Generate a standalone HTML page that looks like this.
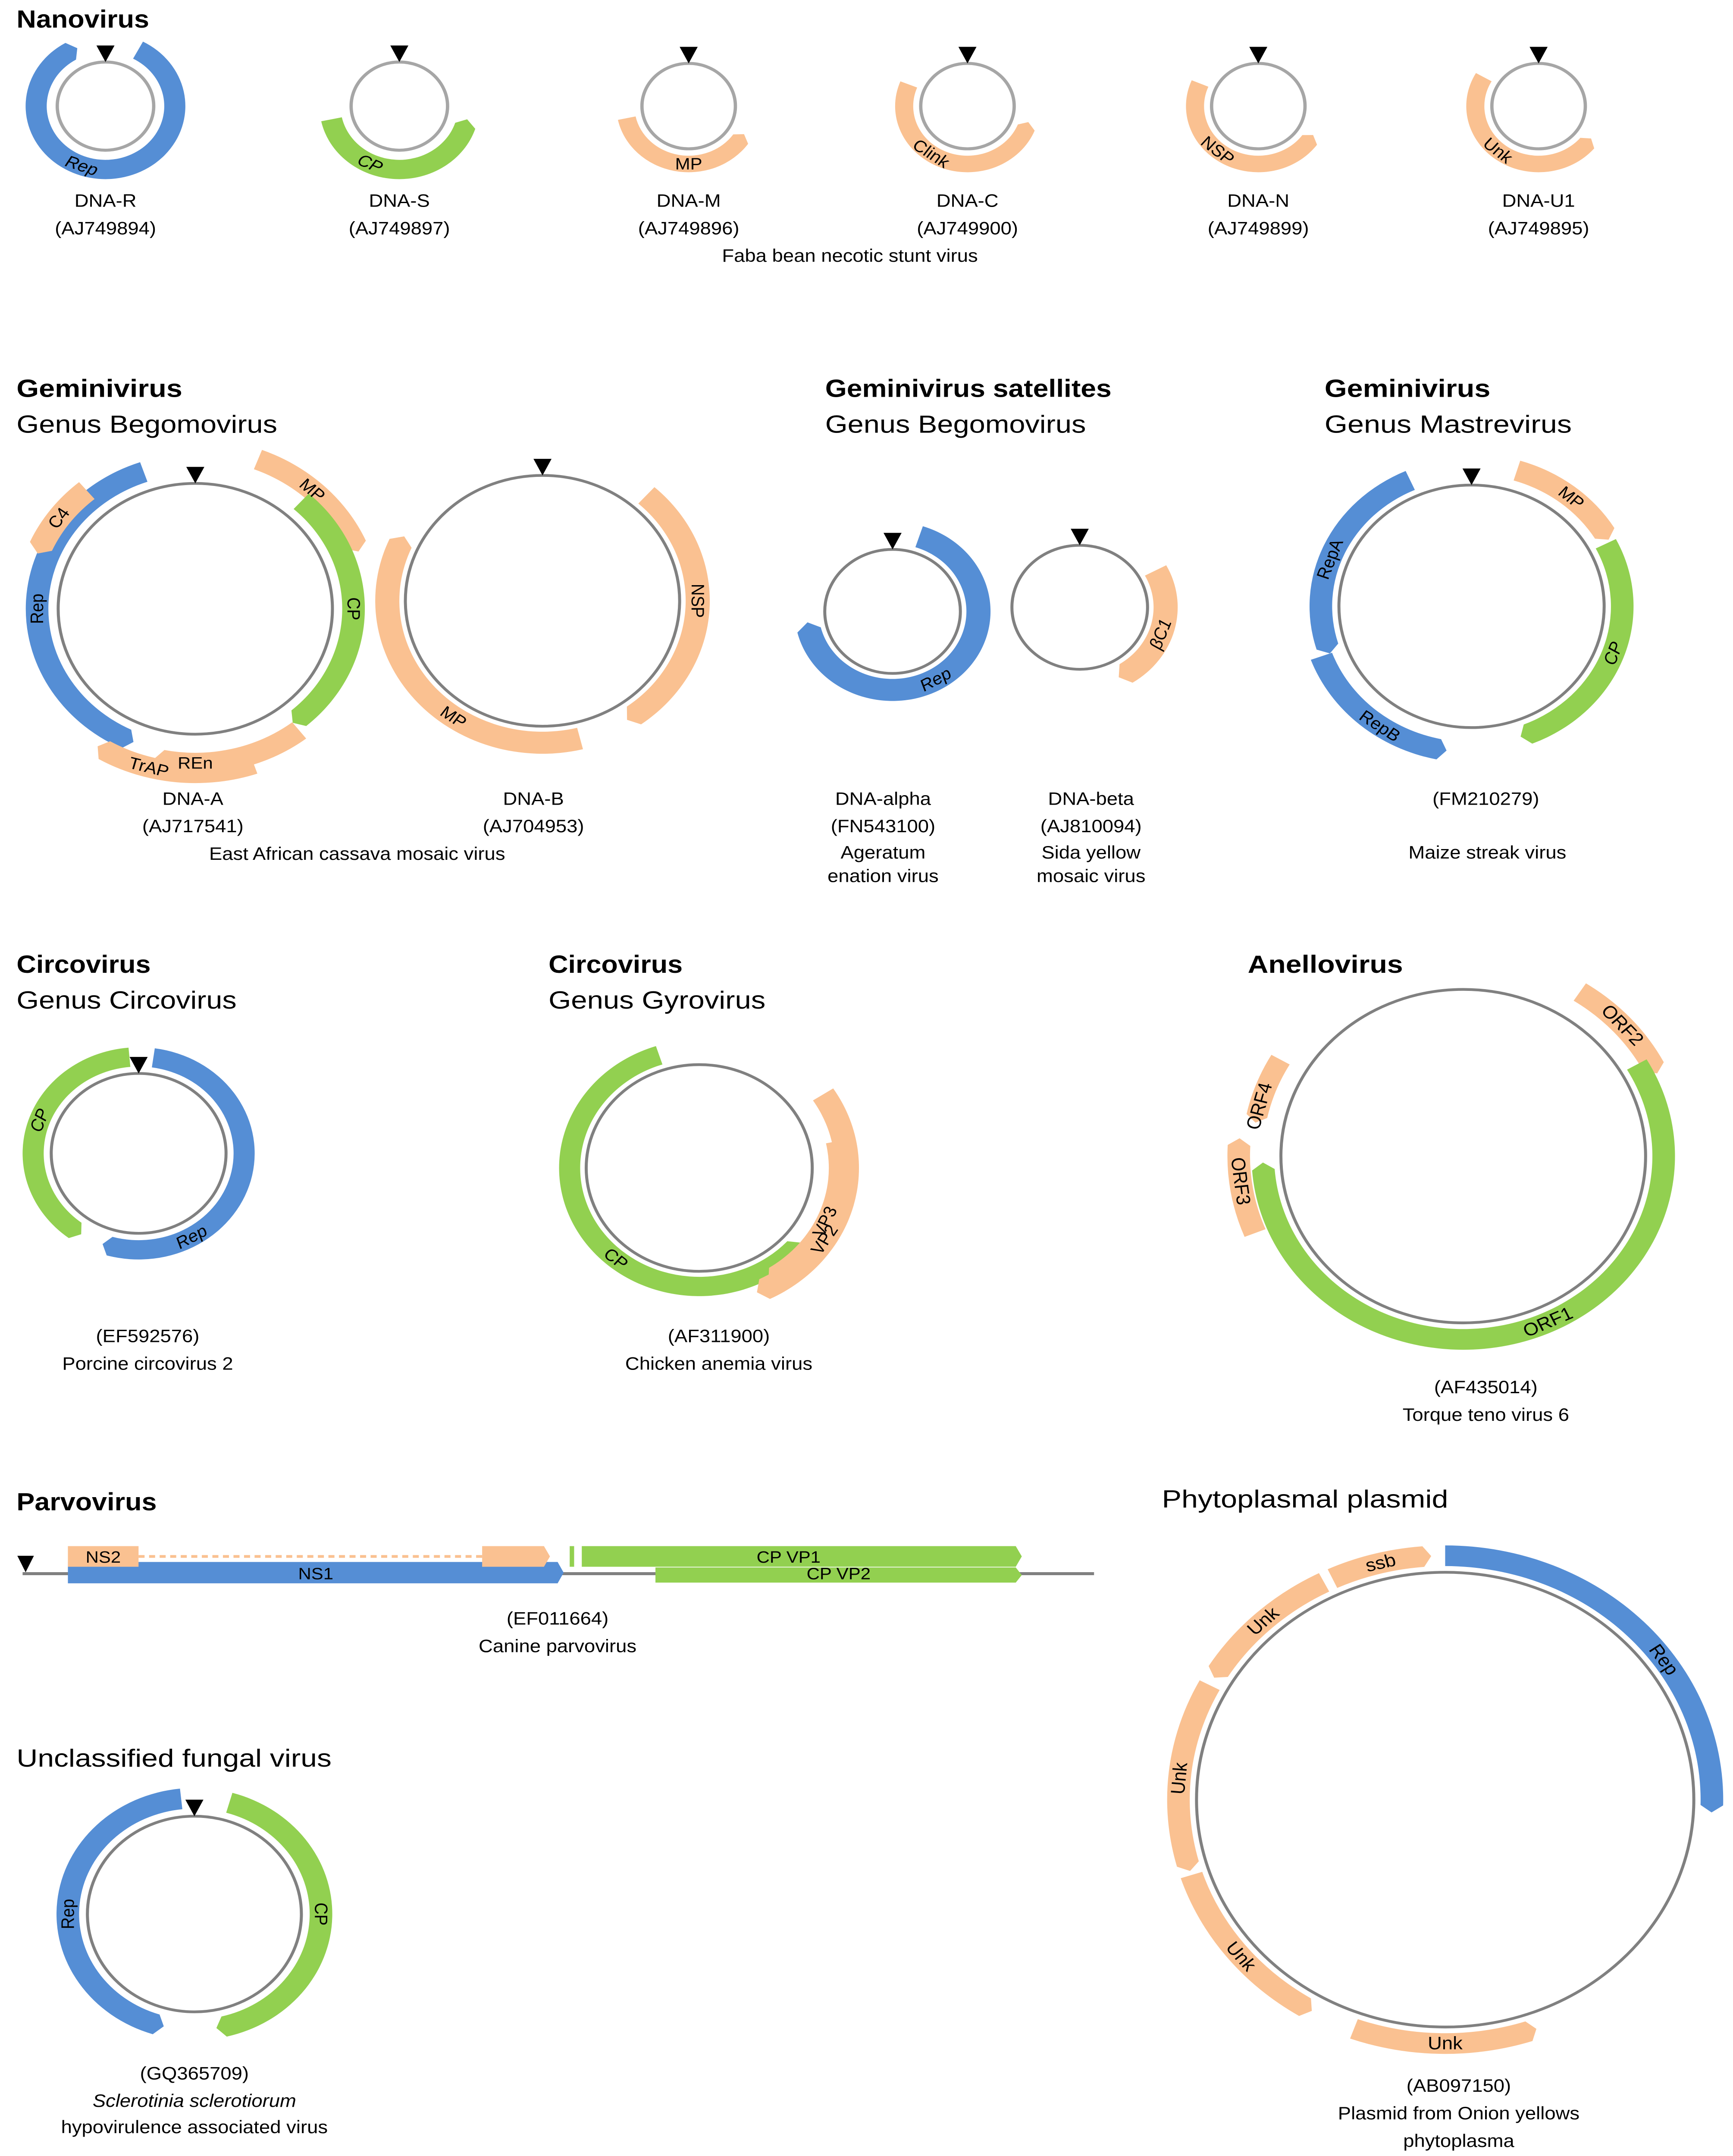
<!DOCTYPE html>
<html><head><meta charset="utf-8"><style>
html,body{margin:0;padding:0;background:#fff;width:100vw;height:100vh;overflow:hidden}
svg{display:block;width:100vw;height:100vh}
text{font-family:"Liberation Sans",sans-serif;fill:#000}
</style></head><body>
<svg id="fig" xmlns="http://www.w3.org/2000/svg" viewBox="0 0 1150 1564.6" preserveAspectRatio="none">
<g id="titles">
<text x="11" y="20" font-size="18" font-weight="bold" textLength="88" lengthAdjust="spacingAndGlyphs">Nanovirus</text>
<text x="11" y="288" font-size="18" font-weight="bold" textLength="110" lengthAdjust="spacingAndGlyphs">Geminivirus</text>
<text x="11" y="314" font-size="18" textLength="173" lengthAdjust="spacingAndGlyphs">Genus Begomovirus</text>
<text x="547.6" y="288" font-size="18" font-weight="bold" textLength="190" lengthAdjust="spacingAndGlyphs">Geminivirus satellites</text>
<text x="547.6" y="314" font-size="18" textLength="173" lengthAdjust="spacingAndGlyphs">Genus Begomovirus</text>
<text x="879" y="288" font-size="18" font-weight="bold" textLength="110" lengthAdjust="spacingAndGlyphs">Geminivirus</text>
<text x="879" y="314" font-size="18" textLength="164" lengthAdjust="spacingAndGlyphs">Genus Mastrevirus</text>
<text x="11" y="706" font-size="18" font-weight="bold" textLength="89" lengthAdjust="spacingAndGlyphs">Circovirus</text>
<text x="11" y="732" font-size="18" textLength="146" lengthAdjust="spacingAndGlyphs">Genus Circovirus</text>
<text x="364" y="706" font-size="18" font-weight="bold" textLength="89" lengthAdjust="spacingAndGlyphs">Circovirus</text>
<text x="364" y="732" font-size="18" textLength="144" lengthAdjust="spacingAndGlyphs">Genus Gyrovirus</text>
<text x="828" y="706" font-size="18" font-weight="bold" textLength="103" lengthAdjust="spacingAndGlyphs">Anellovirus</text>
<text x="11" y="1096" font-size="18" font-weight="bold" textLength="93" lengthAdjust="spacingAndGlyphs">Parvovirus</text>
<text x="11" y="1282" font-size="18" textLength="209" lengthAdjust="spacingAndGlyphs">Unclassified fungal virus</text>
<text x="771" y="1094" font-size="18" textLength="190" lengthAdjust="spacingAndGlyphs">Phytoplasmal plasmid</text>
</g>
<g id="captions" font-size="13" text-anchor="middle">
<text x="70" y="150">DNA-R</text>
<text x="70" y="170">(AJ749894)</text>
<text x="265" y="150">DNA-S</text>
<text x="265" y="170">(AJ749897)</text>
<text x="457" y="150">DNA-M</text>
<text x="457" y="170">(AJ749896)</text>
<text x="642" y="150">DNA-C</text>
<text x="642" y="170">(AJ749900)</text>
<text x="835" y="150">DNA-N</text>
<text x="835" y="170">(AJ749899)</text>
<text x="1021" y="150">DNA-U1</text>
<text x="1021" y="170">(AJ749895)</text>
<text x="564" y="190">Faba bean necotic stunt virus</text>
<text x="128" y="584">DNA-A</text>
<text x="128" y="604">(AJ717541)</text>
<text x="354" y="584">DNA-B</text>
<text x="354" y="604">(AJ704953)</text>
<text x="237" y="624">East African cassava mosaic virus</text>
<text x="586" y="584">DNA-alpha</text>
<text x="586" y="604">(FN543100)</text>
<text x="586" y="623">Ageratum</text>
<text x="586" y="640">enation virus</text>
<text x="724" y="584">DNA-beta</text>
<text x="724" y="604">(AJ810094)</text>
<text x="724" y="623">Sida yellow</text>
<text x="724" y="640">mosaic virus</text>
<text x="986" y="584">(FM210279)</text>
<text x="987" y="623">Maize streak virus</text>
<text x="98" y="974">(EF592576)</text>
<text x="98" y="994">Porcine circovirus 2</text>
<text x="477" y="974">(AF311900)</text>
<text x="477" y="994">Chicken anemia virus</text>
<text x="986" y="1011">(AF435014)</text>
<text x="986" y="1031">Torque teno virus 6</text>
<text x="370" y="1179">(EF011664)</text>
<text x="370" y="1199">Canine parvovirus</text>
<text x="129" y="1509">(GQ365709)</text>
<text x="129" y="1529" font-style="italic">Sclerotinia sclerotiorum</text>
<text x="129" y="1548">hypovirulence associated virus</text>
<text x="968" y="1518">(AB097150)</text>
<text x="968" y="1538">Plasmid from Onion yellows</text>
<text x="968" y="1558">phytoplasma</text>
</g>
<g id="maps"></g>
<g id="parvo"></g>
</svg>
<script>
const genomeNames = ["DNA-R","DNA-S","DNA-M","DNA-C","DNA-N","DNA-U1","DNA-A","DNA-B","DNA-alpha","DNA-beta","MSV","PCV2","CAV","TTV6","SsHADV","OY-plasmid"];
const genomeCx = [70,265,457,642,835,1021,129.6,360,592.3,716.5,976.5,92,464,971,129,959];
const genomeCy = [77,77,77,77,77,77,441.8,436,443.7,440.7,440,837,847.6,839,1389,1306];
const genomeR = [32,32,31,31,31,31,91,91,45,45,88,58,75,121,71,165];
const genomeMarker = [1,1,1,1,1,1,1,1,1,1,1,1,0,0,1,0];
const genomeStroke = ["#a6a6a6","#a6a6a6","#a6a6a6","#a6a6a6","#a6a6a6","#a6a6a6","#808080","#808080","#808080","#808080","#808080","#808080","#808080","#808080","#808080","#808080"];
const featGenome = [0,1,2,3,4,5, 6,6,6,6,6,6, 7,7, 8,9, 10,10,10,10, 11,11, 12,12,12, 13,13,13,13, 14,14, 15,15,15,15,15,15];
const featLabel = ["Rep","CP","MP","Clink","NSP","Unk", "Rep","C4","MP","CP","REn","TrAP", "NSP","MP", "Rep","βC1", "MP","CP","RepA","RepB", "CP","Rep", "CP","VP2","VP3", "ORF2","ORF1","ORF4","ORF3", "Rep","CP", "Rep","ssb","Unk","Unk","Unk","Unk"];
const featStart = [28,258,258,292,293,300, 341,320,21,42,142,161, 42,166, 18,62, 17,63,336,250, 355,8, 342,57,78, 33,60,300,248, 354,16, 0,335,333,298,252,200];
const featEnd = [336,102,119,106,120,124, 203,291,69,142,194,213, 147,297, 262,153, 62,161,250,189, 213,200, 129,157,150, 65,268,280,275, 194,170, 93,357,300,253,210,160];
const featRadiusOffset = [14,14,11,11,11,11, 14,21,25,14,21,28, 12,12, 12,12, 15,12,12,18, 12,12, 11,23,17, 21,12,19,28, 13,13, 12,12,12,12,12,12];
const featWidth = [14,14,12,12,12,12, 15,16,15,15,15,15, 16,16, 16,16, 15,15,15,15, 14,14, 14,16,12, 15,15,14,15, 15,15, 15,15,15,15,15,15];
const featType = ["R","C","O","O","O","O", "R","O","O","C","O","O", "O","O", "R","O", "O","C","R","R", "C","R", "C","O","O", "O","C","O","O", "R","C", "R","O","O","O","O","O"];
const featLabelAngle = [200,205,180,215,220,220, 270,306,42,90,180,195, 90,215, 150,110, 40,110,290,215, 290,150, 220,122,115, 48,155,285,263, 270,90, 55,346,317,275,230,180];
const featItalic = [1,1,0,0,0,0, 0,0,0,0,0,0, 0,0, 1,1, 0,1,0,0, 1,1, 0,0,0, 0,0,0,0, 0,0, 0,0,0,0,0,0];
const colorMap = {R:"#558ed5",C:"#92d050",O:"#fac191"};
const NS = "http://www.w3.org/2000/svg";
function pt(cx,cy,r,a){const t=a*Math.PI/180;return [cx+r*Math.sin(t),cy-r*Math.cos(t)];}
function arcPath(cx,cy,r,w,a1,a2){
  const dir=a2>a1?1:-1, ro=r+w/2, ri=r-w/2;
  const ah=(w*0.35/r)*180/Math.PI;
  const a2b=a2-dir*ah;
  const large=Math.abs(a2b-a1)>180?1:0, sw=dir>0?1:0;
  const p1=pt(cx,cy,ro,a1),p2=pt(cx,cy,ro,a2b),tip=pt(cx,cy,r,a2),p3=pt(cx,cy,ri,a2b),p4=pt(cx,cy,ri,a1);
  return `M${p1[0]},${p1[1]} A${ro},${ro} 0 ${large} ${sw} ${p2[0]},${p2[1]} L${tip[0]},${tip[1]} L${p3[0]},${p3[1]} A${ri},${ri} 0 ${large} ${1-sw} ${p4[0]},${p4[1]} Z`;
}
const maps=document.getElementById('maps');
genomeNames.forEach((g,i)=>{
  const grp=document.createElementNS(NS,'g');
  
  
  maps.appendChild(grp);
  const c=document.createElementNS(NS,'circle');
  
  
  c.setAttribute('cx',genomeCx[i]);c.setAttribute('cy',genomeCy[i]);c.setAttribute('r',genomeR[i]);
  c.setAttribute('fill','none');c.setAttribute('stroke',genomeStroke[i]);c.setAttribute('stroke-width',i<6?2.2:2);
  grp.appendChild(c);
});
featGenome.forEach((gi,k)=>{
  const grp=maps.children[gi];
  const cx=genomeCx[gi],cy=genomeCy[gi],r=genomeR[gi]+featRadiusOffset[k];
  const p=document.createElementNS(NS,'path');
  
  
  p.setAttribute('d',arcPath(cx,cy,r,featWidth[k],featStart[k],featEnd[k]));
  p.setAttribute('fill',colorMap[featType[k]]);
  grp.appendChild(p);
});
featGenome.forEach((gi,k)=>{
  const grp=maps.children[gi];
  const cx=genomeCx[gi],cy=genomeCy[gi],r=genomeR[gi]+featRadiusOffset[k];
  const a=featLabelAngle[k];const q=pt(cx,cy,r,a);
  const rot=(a>90&&a<270)?a-180:a;
  const t=document.createElementNS(NS,'text');
  
  
  t.setAttribute('x',q[0]);t.setAttribute('y',q[1]);
  t.setAttribute('text-anchor','middle');t.setAttribute('dominant-baseline','central');
  t.setAttribute('font-size',gi===15||gi===13?13:12);
  if(featItalic[k])t.setAttribute('font-style','italic');
  t.setAttribute('transform',`rotate(${rot} ${q[0]} ${q[1]})`);
  t.textContent=featLabel[k];
  grp.appendChild(t);
});
genomeNames.forEach((g,i)=>{
  if(!genomeMarker[i])return;
  const x=genomeCx[i],y=genomeCy[i]-genomeR[i];
  const m=document.createElementNS(NS,'polygon');
  
  
  m.setAttribute('points',`${x-6},${y-12} ${x+6},${y-12} ${x},${y}`);
  maps.children[i].appendChild(m);
});
const parvoNames = ["NS1","NS2","NS2-exon2","VP1-leader","CP VP1","CP VP2"];
const parvoStart = [225,225,2283,2718,2778,3144];
const parvoEnd = [2688,576,2620,2740,4964,4964];
const parvoTrack = [1,0,0,0,0,1];
const parvoType = ["R","O","O","C","C","C"];
const parvoLabels = ["NS1","NS2","","","CP VP1","CP VP2"];
const parvoLen = 5323;
const xs=nt=>15+nt*(711/parvoLen);
const trackY=[1122,1134.5];
const pg=document.getElementById('parvo');
const line=document.createElementNS(NS,'line');

line.setAttribute('x1',xs(0));line.setAttribute('x2',xs(parvoLen));line.setAttribute('y1',1142);line.setAttribute('y2',1142);
line.setAttribute('stroke','#808080');line.setAttribute('stroke-width',2.2);pg.appendChild(line);
const dash=document.createElementNS(NS,'line');

dash.setAttribute('x1',xs(parvoEnd[1]));dash.setAttribute('x2',xs(parvoStart[2]));dash.setAttribute('y1',1129.5);dash.setAttribute('y2',1129.5);
dash.setAttribute('stroke','#fac191');dash.setAttribute('stroke-width',2);dash.setAttribute('stroke-dasharray','4 3');pg.appendChild(dash);
parvoNames.forEach((n,i)=>{
  const x1=xs(parvoStart[i]),x2=xs(parvoEnd[i]),y=trackY[parvoTrack[i]],h=i===5?11:15;
  const yy=i===5?1137.5:(i===0?1133.5:y);
  const hh=i===0?15.5:h;
  const tip=(i===0||i>=2&&i!==3)?4:0;
  const p=document.createElementNS(NS,'polygon');
  
  
  p.setAttribute('points',`${x1},${yy} ${x2-tip},${yy} ${x2},${yy+hh/2} ${x2-tip},${yy+hh} ${x1},${yy+hh}`);
  p.setAttribute('fill',colorMap[parvoType[i]]);
  pg.appendChild(p);
});
parvoNames.forEach((n,i)=>{
  if(!parvoLabels[i])return;
  const x1=xs(parvoStart[i]),x2=xs(parvoEnd[i]);
  const t=document.createElementNS(NS,'text');
  
  t.setAttribute('x',(i===4?x1+(x2-x1)*0.47:(x1+x2)/2));t.setAttribute('y',i===0||i===5?1146:1134);
  t.setAttribute('text-anchor','middle');t.setAttribute('font-size',12);
  t.textContent=parvoLabels[i];pg.appendChild(t);
});
const pm=document.createElementNS(NS,'polygon');

pm.setAttribute('points','11.5,1129 22.5,1129 17,1141');pg.appendChild(pm);
</script>
</body></html>
